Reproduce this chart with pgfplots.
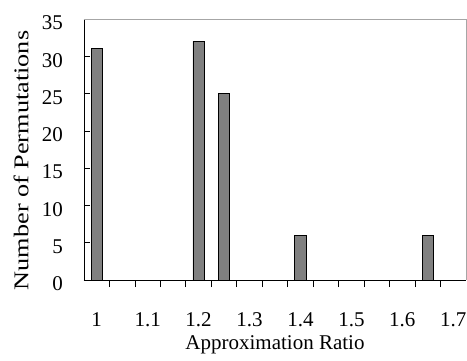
\documentclass[border=0pt]{standalone}
\usepackage{pgfplots}
\pgfplotsset{compat=1.18}
\usepackage{fontspec}
\setmainfont{Liberation Serif}
\begin{document}
\begin{tikzpicture}[x=1pt,y=1pt]
\path[use as bounding box] (0,0) rectangle (467,360);
\begin{axis}[
  at={(84pt,80pt)}, anchor=south west,
  scale only axis, width=382pt, height=261pt,
  xmin=0, xmax=15, ymin=0, ymax=35,
  axis x line*=bottom, axis y line*=left,
  axis line style={black, line width=0.8pt},
  xtick={0.5,2.5,4.5,6.5,8.5,10.5,12.5,14.5},
  xticklabels={1,1.1,1.2,1.3,1.4,1.5,1.6,1.7},
  major x tick style={draw=none},
  minor xtick={1,2,...,14},
  minor tick length=7pt,
  minor x tick style={black, line width=0.8pt},
  xtick align=inside,
  ytick={0,5,...,35},
  ytick align=inside,
  major tick length=6pt,
  y tick style={black, line width=0.6pt},
  /pgf/number format/assume math mode=true,
  ticklabel style={font=\fontsize{21}{25}\selectfont},
  xticklabel style={anchor=base, yshift=-40pt},
  yticklabel style={anchor=east, inner sep=0pt, xshift=-21pt, yshift=-4pt},
  xlabel={Approximation Ratio},
  xlabel style={font=\fontsize{21}{25}\selectfont, at={(axis description cs:0.5,0)}, anchor=base, yshift=-69pt},
  ylabel={\scalebox{1.25}[1]{Number of Permutations}},
  ylabel style={font=\fontsize{21}{25}\selectfont, at={([xshift=-63pt,yshift=-11pt]axis description cs:0,0.5)}, anchor=center},
  ybar, bar width=11.3pt,
  clip=false,
  extra description/.code={
    \draw[gray!70, line width=0.6pt] (rel axis cs:0,1) -- (rel axis cs:1,1) -- (rel axis cs:1,0);
  },
]
\addplot[draw=black, line width=0.8pt, fill=black!50] coordinates {
  (0.5,31) (4.5,32) (5.5,25) (8.5,6) (13.5,6)
};
\end{axis}
\end{tikzpicture}
\end{document}
